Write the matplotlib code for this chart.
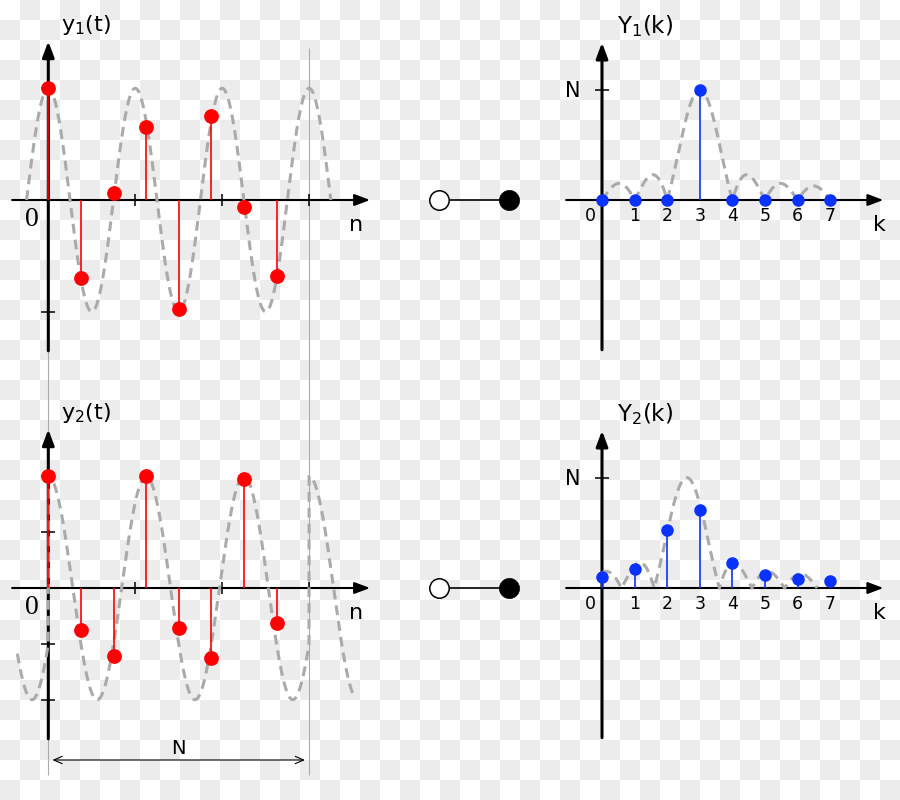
import numpy as np
import matplotlib
matplotlib.use("Agg")
import matplotlib.pyplot as plt
from matplotlib.colors import ListedColormap
from matplotlib.transforms import blended_transform_factory

W, H = 900, 800

# ---------------- DATA ----------------
N = 8
n = np.arange(8)
k = np.arange(8)
y1_samples = [1.0, -0.70, 0.065, 0.65, -0.975, 0.755, -0.065, -0.68]
y2_samples = [1.0, -0.38, -0.61, 1.0, -0.36, -0.63, 0.98, -0.31]
Y1_values = [0, 0, 0, 8, 0, 0, 0, 0]
Y2_values = [0.80, 1.41, 4.18, 5.63, 1.81, 0.97, 0.68, 0.49]
k_labels = ["0", "1", "2", "3", "4", "5", "6", "7"]

# dashed guide curves (continuous signal / spectrum envelope)
f1 = 3 / 8          # cycles per sample, y1
f2 = 1 / 3          # cycles per sample, y2 (repeated every N samples)
Y1_centre = 3.0
Y2_centre = 2.6
y1_span = (-2 / 3, 8 + 2 / 3)
y2_span = (-0.95, 9.35)
Y1_span = (0, 7)
Y2_span = (0, 6.6)

amp_ticks_1 = [-1, 1]
amp_ticks_2 = [-1, -0.5, 0.5, 1]
n_ticks = [8 / 3, 16 / 3, 8]
period_marks = [0, N]
link_x = [0, 1]

# axis extents (data units)
n_axis = (-1.11, 9.87)
amp_axis = (-1.35, 1.42)
k_axis = (-1.1, 8.63)
mag_axis = (-10.85, 11.4)

RED = "#ff0000"
BLUE = "#0a32ff"
GREY = "#aaaaaa"

plt.rcParams["font.family"] = "DejaVu Sans"
plt.rcParams["mathtext.default"] = "regular"

fig = plt.figure(figsize=(W / 100, H / 100), dpi=100)

# checkerboard background
bg = fig.add_axes([0, 0, 1, 1])
bg.set_zorder(-2)
board = np.indices((H // 20, W // 20)).sum(axis=0) % 2
bg.imshow(board, cmap=ListedColormap(["white", "#ececec"]),
          extent=(0, W, H, 0), interpolation="nearest", aspect="auto")
bg.set_axis_off()


def panel(box, origin, sx, sy):
    l, t, r, b = box
    ox, oy = origin
    ax = fig.add_axes([l / W, 1 - b / H, (r - l) / W, (b - t) / H])
    ax.set_xlim((l - ox) / sx, (r - ox) / sx)
    ax.set_ylim((oy - b) / sy, (oy - t) / sy)
    ax.set_axis_off()
    return ax


def arrows(ax, xr, yr, lw_x=1.5, lw_y=2.2):
    style = "-|>,head_length=0.85,head_width=0.32"
    ax.annotate("", xy=(xr[1], 0), xytext=(xr[0], 0),
                arrowprops=dict(arrowstyle=style, color="black", lw=lw_x,
                                mutation_scale=11, shrinkA=0, shrinkB=0),
                annotation_clip=False, zorder=2)
    ax.annotate("", xy=(0, yr[1]), xytext=(0, yr[0]),
                arrowprops=dict(arrowstyle=style, color="black", lw=lw_y,
                                mutation_scale=11, shrinkA=0, shrinkB=0),
                annotation_clip=False, zorder=2)


def label(ax, text, xy, off, size, **kw):
    ax.annotate(text, xy, xytext=off, textcoords="offset pixels",
                ha="center", va="center", fontsize=size,
                annotation_clip=False, **kw)


def dirichlet(x):
    with np.errstate(divide="ignore", invalid="ignore"):
        d = np.abs(np.sin(np.pi * x) / np.sin(np.pi * x / N))
    d[np.isclose(x, 0)] = N
    return d


dash = (0, (3.2, 2.0))

# ---------------- TIME SIGNALS ----------------
ax_t1 = panel((0, 0, 390, 380), (48.3, 200), 32.6, 111.7)
ax_t2 = panel((0, 390, 390, 800), (48.3, 588), 32.6, 111.7)
ax_t2.set_zorder(-1)

t1 = np.linspace(*y1_span, 1500)
t2 = np.linspace(*y2_span, 3000)
curves = [np.cos(2 * np.pi * f1 * t1), np.cos(2 * np.pi * f2 * np.mod(t2, N))]

for ax, t, c, samples, aticks, sub in [
        (ax_t1, t1, curves[0], y1_samples, amp_ticks_1, "1"),
        (ax_t2, t2, curves[1], y2_samples, amp_ticks_2, "2")]:
    arrows(ax, n_axis, amp_axis)
    ax.hlines(aticks, -0.21, 0.21, color="black", lw=1.1, zorder=2)
    ax.vlines(n_ticks, -0.055, 0.055, color="black", lw=1.1, zorder=2)
    ax.plot(t, c, color=GREY, lw=2.2, ls=dash, zorder=3, clip_on=False)
    ax.vlines(n, 0, samples, color=RED, lw=1.2, zorder=4)
    ax.plot(n, samples, "o", color=RED, ms=9.6, zorder=5, clip_on=False)
    label(ax, "0", (0, 0), (-16, -20), 20, family="Liberation Serif")
    label(ax, "n", (n_axis[1], 0), (-14, -25), 16)
    label(ax, "$y_%s(t)$" % sub, (0, amp_axis[1]), (38, 16), 16)

# period boundaries and N dimension
trans = blended_transform_factory(ax_t2.transData, fig.transFigure)
ax_t2.vlines(period_marks, 1 - 775 / H, 1 - 48 / H, transform=trans,
             colors=GREY, lw=0.8, zorder=1, clip_on=False)
ax_t2.annotate("", xy=(period_marks[1], 1 - 760 / H),
               xytext=(period_marks[0], 1 - 760 / H), xycoords=trans,
               arrowprops=dict(arrowstyle="<->,head_length=0.5,head_width=0.22",
                               color="black", lw=0.8, mutation_scale=12,
                               shrinkA=3, shrinkB=3),
               annotation_clip=False)
ax_t2.text(N / 2, 1 - 749 / H, "N", transform=trans, ha="center",
           va="center", fontsize=14)

# ---------------- SPECTRA ----------------
ax_f1 = panel((540, 0, 900, 380), (602, 200), 32.6, 13.8)
ax_f2 = panel((540, 390, 900, 800), (602, 588), 32.6, 13.8)

g1 = np.linspace(*Y1_span, 1401)
g2 = np.linspace(*Y2_span, 1321)
envelopes = [dirichlet(g1 - Y1_centre), dirichlet(g2 - Y2_centre)]

for ax, g, e, vals, sub in [(ax_f1, g1, envelopes[0], Y1_values, "1"),
                            (ax_f2, g2, envelopes[1], Y2_values, "2")]:
    arrows(ax, k_axis, mag_axis)
    ax.hlines([N], -0.23, 0.23, color="black", lw=1.1, zorder=2)
    ax.plot(g, e, color=GREY, lw=2.2, ls=dash, zorder=3, clip_on=False)
    ax.vlines(k, 0, vals, color=BLUE, lw=1.2, zorder=4)
    ax.plot(k, vals, "o", color=BLUE, ms=8, zorder=5, clip_on=False)
    for kk, txt in zip(k, k_labels):
        label(ax, txt, (kk, 0), (-12 if kk == 0 else 0, -16), 12.5)
    label(ax, "N", (0, N), (-29, -1), 15)
    label(ax, "k", (k_axis[1], 0), (-4, -25), 16)
    label(ax, "$Y_%s(k)$" % sub, (0, mag_axis[1]), (43, 17), 16.5)

# ---------------- TRANSFORM SYMBOL ----------------
for oy in (200, 588):
    ax_m = panel((420, oy - 30, 530, oy + 30), (438.5, oy), 70.5, 70.5)
    ax_m.plot(link_x, [0, 0], color="black", lw=1.2, zorder=2)
    ax_m.plot(link_x[0], 0, "o", ms=14, mfc="white", mec="black",
              mew=1.1, zorder=3)
    ax_m.plot(link_x[1], 0, "o", ms=14.5, mfc="black", mec="black",
              mew=0.5, zorder=3)

fig.savefig("out.png", dpi=100)
